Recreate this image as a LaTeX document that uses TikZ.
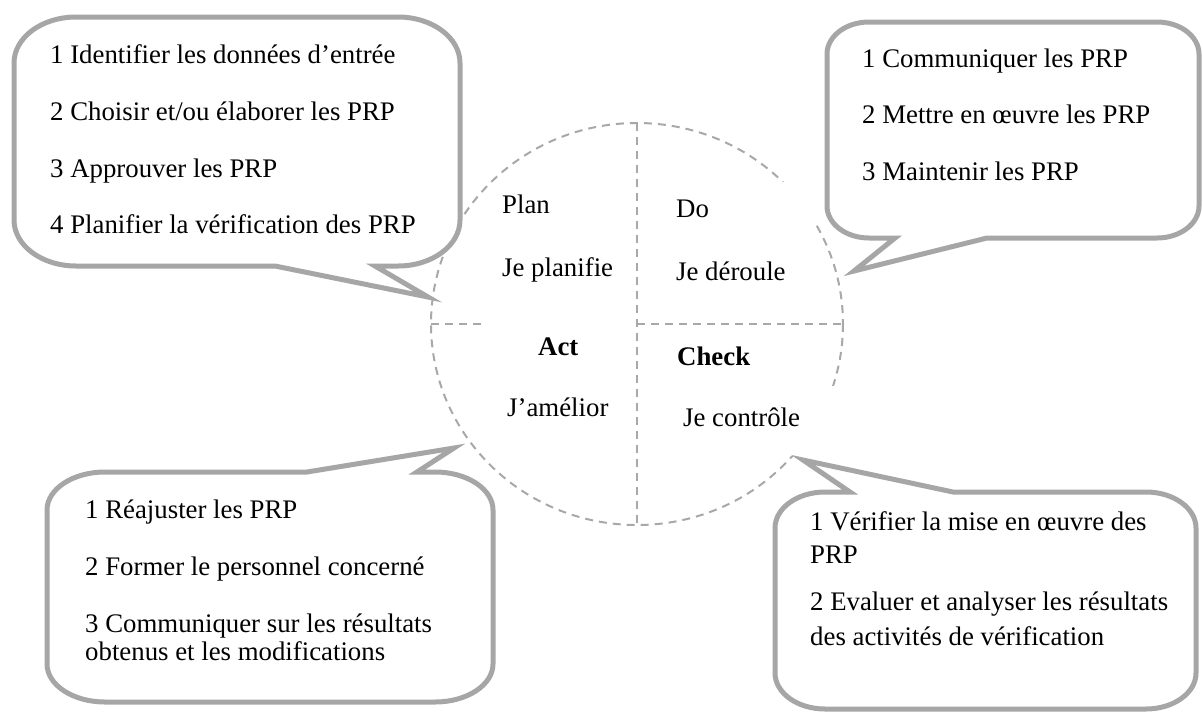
\documentclass[tikz,border=0pt]{standalone}
\usepackage{fontspec}
\setmainfont{Liberation Serif}[Ligatures=NoCommon]
\definecolor{rimgray}{HTML}{A6A6A6}
\definecolor{ringgray}{HTML}{A8A8A8}
\tikzset{
  bubble/.style={draw=rimgray, line width=5pt, fill=white, line join=miter, miter limit=10},
  ring/.style={draw=ringgray, line width=2pt, dash pattern=on 8pt off 6pt},
  txt/.style={anchor=base west, inner sep=0pt, font=\fontsize{26.8}{32}\selectfont},
  bold/.style={txt, font=\fontsize{26.8}{32}\selectfont\bfseries},
}
\begin{document}
\begin{tikzpicture}[x=1pt, y=-1pt]
\useasboundingbox (0,0) rectangle (1203,713);

% PDCA wheel: dashed ring and its two axes
\coordinate (ctr) at (637,324);
\draw[ring] (ctr) ellipse [x radius=206, y radius=201];
\draw[ring] (637,123) -- (637,525);
\draw[ring] (431,324) -- (482,324);
\draw[ring] (ctr) -- (843,324);

% white text frames lying over the ring
\fill[white] (648,182) rectangle (815,310);
\fill[white] (660,386) rectangle (842,456);
\fill[white] (484,316) rectangle (632,430);

% quadrant labels
\node[txt]  (plan)  at (502,213) {Plan};
\node[txt]  (planv) at (502,276) {Je planifie};
\node[txt]  (do)    at (676,217) {Do};
\node[txt]  (dov)   at (676,280) {Je déroule};
\node[bold] (act)   at (538,355) {Act};
\node[txt]  (actv)  at (507,416) {J’amélior};
\node[bold] (chk)   at (677,365) {Check};
\node[txt]  (chkv)  at (683,426) {Je contrôle};

% Plan callout (top left)
\draw[bubble] (76,17) -- (398,17) arc[start angle=270, end angle=360, x radius=62, y radius=46]
  -- (460,220) arc[start angle=0, end angle=90, x radius=62, y radius=46]
  -- (375,266) -- (428,297) -- (275,266)
  -- (76,266) arc[start angle=90, end angle=180, x radius=62, y radius=46]
  -- (14,63) arc[start angle=180, end angle=270, x radius=62, y radius=46] -- cycle;
\node[txt] (p1) at (50,63)  {1 Identifier les données d’entrée};
\node[txt] (p2) at (50,120) {2 Choisir et/ou élaborer les PRP};
\node[txt] (p3) at (50,177) {3 Approuver les PRP};
\node[txt] (p4) at (50,233) {4 Planifier la vérification des PRP};

% Do callout (top right)
\draw[bubble] (869,22) -- (1157,22) arc[start angle=270, end angle=360, x radius=42, y radius=32]
  -- (1199,206) arc[start angle=0, end angle=90, x radius=42, y radius=32]
  -- (987,238) -- (854,271) -- (895,238)
  -- (869,238) arc[start angle=90, end angle=180, x radius=42, y radius=32]
  -- (827,54) arc[start angle=180, end angle=270, x radius=42, y radius=32] -- cycle;
\node[txt] (d1) at (862,67)  {1 Communiquer les PRP};
\node[txt] (d2) at (862,123) {2 Mettre en œuvre les PRP};
\node[txt] (d3) at (862,180) {3 Maintenir les PRP};

% Act callout (bottom left)
\draw[bubble] (105,472) -- (307,472) -- (454,448) -- (417,472)
  -- (435,472) arc[start angle=270, end angle=360, x radius=58, y radius=38]
  -- (493,664) arc[start angle=0, end angle=90, x radius=58, y radius=38]
  -- (105,702) arc[start angle=90, end angle=180, x radius=58, y radius=38]
  -- (47,510) arc[start angle=180, end angle=270, x radius=58, y radius=38] -- cycle;
\node[txt] (a1) at (85,518) {1 Réajuster les PRP};
\node[txt] (a2) at (85,575) {2 Former le personnel concerné};
\node[txt] (a3) at (85,632) {3 Communiquer sur les résultats};
\node[txt] (a4) at (85,660) {obtenus et les modifications};

% Check callout (bottom right)
\draw[bubble] (825,492) -- (850,492) -- (803,460) -- (953,492)
  -- (1146,492) arc[start angle=270, end angle=360, x radius=50, y radius=36]
  -- (1196,673) arc[start angle=0, end angle=90, x radius=50, y radius=36]
  -- (825,709) arc[start angle=90, end angle=180, x radius=50, y radius=36]
  -- (775,528) arc[start angle=180, end angle=270, x radius=50, y radius=36] -- cycle;
\node[txt] (c1) at (810,530) {1 Vérifier la mise en œuvre des};
\node[txt] (c2) at (810,563) {PRP};
\node[txt] (c3) at (810,610) {2 Evaluer et analyser les résultats};
\node[txt] (c4) at (810,645) {des activités de vérification};
\end{tikzpicture}
\end{document}
